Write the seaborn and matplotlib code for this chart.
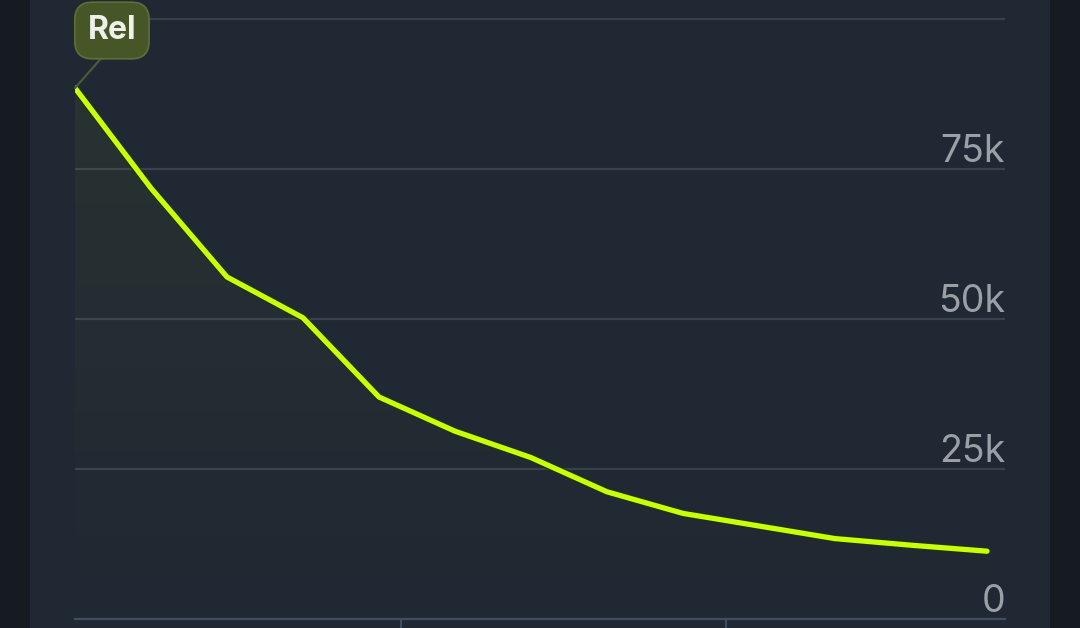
import numpy as np
import pandas as pd
import matplotlib
matplotlib.use("Agg")
import matplotlib.pyplot as plt
import matplotlib.patheffects as pe
from matplotlib.patches import Rectangle
import seaborn as sns

# ---- data ----
days = [0, 7, 14, 21, 28, 35, 42, 49, 56, 63, 70, 77, 84]
values = [88500, 71800, 57000, 50200, 37000, 31300, 26900, 21200, 17600, 15500, 13400, 12300, 11300]
y_ticks = [0, 25000, 50000, 75000, 100000]
y_labels = ["0", "25k", "50k", "75k", ""]
x_ticks = [30, 60]
annot_label = "Rel"

df = pd.DataFrame({"day": days, "value": values})

sns.set_theme(style="dark")
plt.rcParams["font.family"] = ["Inter", "DejaVu Sans"]

W, H = 1080, 628
fig = plt.figure(figsize=(W / 100, H / 100), dpi=100)
fig.patch.set_facecolor("#161a21")
panel_c = "#202833"
panel = Rectangle((30 / W, 0), 1020 / W, 1, transform=fig.transFigure,
                  facecolor=panel_c, edgecolor="none", zorder=-10)
fig.add_artist(panel)

ax = fig.add_axes([75 / W, 9 / H, 930 / W, 619 / H])
ax.set_facecolor(panel_c)
ax.set_zorder(1)

line_c = "#c8ff0a"
sns.lineplot(data=df, x="day", y="value", ax=ax, color=line_c, lw=3.8, zorder=5,
             solid_joinstyle="round", solid_capstyle="round",
             path_effects=[pe.Stroke(linewidth=5.5, foreground="#22320e"), pe.Normal()])

# gradient fill under line
x = np.array(days, dtype=float)
y = np.array(values, dtype=float)
poly = ax.fill_between(x, y, 0, color="none", lw=0)
ymax_lim = 619 / 150 * 25000
xmax_lim = 84 + 18 / 76 * 7
grad = np.linspace(0, 1, 256).reshape(-1, 1)
cmap = matplotlib.colors.LinearSegmentedColormap.from_list(
    "g", [(0.78, 1.0, 0.04, 0.0), (0.78, 1.0, 0.04, 0.05)])
im = ax.imshow(grad, aspect="auto", cmap=cmap, origin="lower",
               extent=[0, 84, 0, max(values)], zorder=2)
im.set_clip_path(poly.get_paths()[0], transform=ax.transData)

ax.set_xlim(0, xmax_lim)
ax.set_ylim(0, ymax_lim)

# grid lines
for t in y_ticks[1:]:
    ax.axhline(t, color="#3a414c", lw=1.6, zorder=1)

# y labels inside plot, right aligned
for t, lab in zip(y_ticks, y_labels):
    if lab:
        ax.annotate(lab, xy=(1, t), xycoords=("axes fraction", "data"),
                    xytext=(0, 5.2), textcoords="offset points",
                    ha="right", va="baseline", fontsize=27, color="#9b9fa6", zorder=6)

ax.set_yticks([])
ax.set_xticks(x_ticks)
ax.set_xticklabels([])
ax.tick_params(axis="x", bottom=True, length=10, width=1.5, color="#3e4d62", direction="out")
ax.set_xlabel("")
ax.set_ylabel("")
for s in ["top", "right", "left"]:
    ax.spines[s].set_visible(False)
ax.spines["bottom"].set_color("#3e4d62")
ax.spines["bottom"].set_linewidth(1.6)

# annotation
ax.annotate(annot_label, xy=(days[0], values[0]), xycoords="data",
            xytext=(26.6, 41.4), textcoords="offset points",
            ha="center", va="center", fontsize=23, fontweight="bold", color="#eef0ea",
            bbox=dict(boxstyle="round,pad=0.4,rounding_size=0.55", fc="#475627",
                      ec="#5d6d36", lw=1.3),
            arrowprops=dict(arrowstyle="-", color="#4b5a36", lw=1.6,
                            shrinkA=0, shrinkB=0, relpos=(0.5, 0.0)),
            annotation_clip=False, zorder=7)

fig.savefig("out.png", dpi=100, facecolor=fig.get_facecolor())
